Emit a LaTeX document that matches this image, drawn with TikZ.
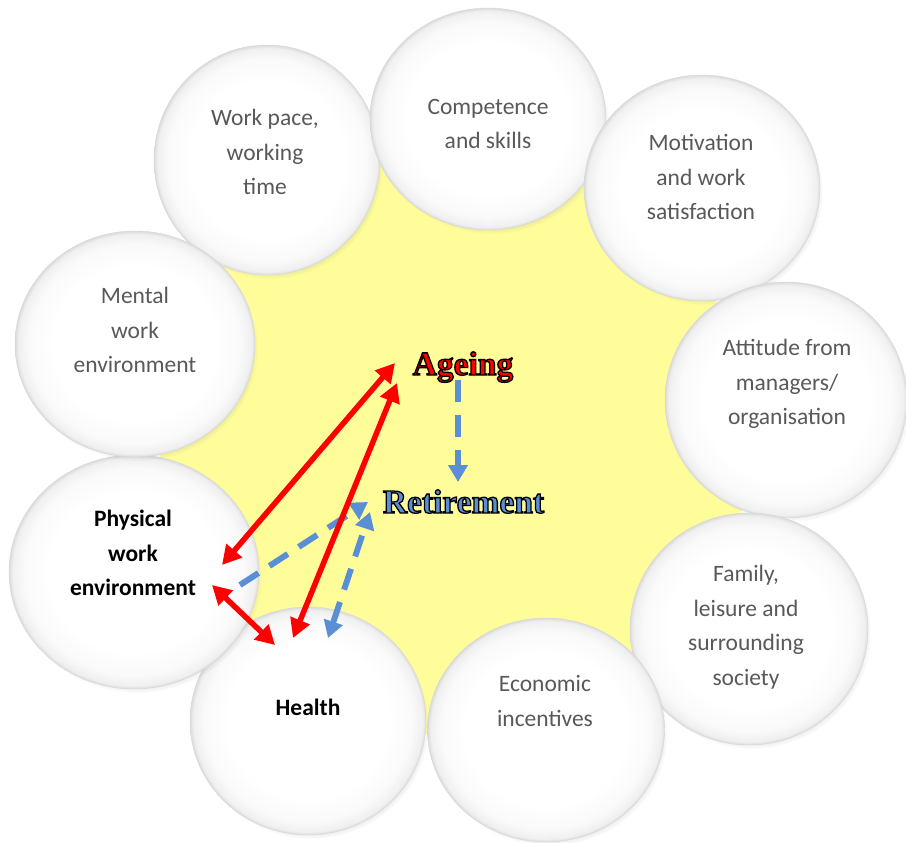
\documentclass[tikz,border=0pt]{standalone}
\usepackage{fontspec}
\setmainfont{Carlito}
\newfontfamily\serifb{Liberation Serif}
\usetikzlibrary{shapes.geometric,arrows.meta,shadows,fadings}
\definecolor{bgyellow}{HTML}{FFFD9A}
\definecolor{txtgray}{HTML}{595959}
\definecolor{arrblue}{HTML}{5A8FD5}
\pgfdeclareradialshading{ballshade}{\pgfpoint{0bp}{0bp}}{color(0bp)=(white); color(17bp)=(white); color(22bp)=(black!2); color(24.3bp)=(black!6); color(25bp)=(black!14); color(50bp)=(black!14)}
\newcommand\outlinedtext[2]{\leavevmode\textcolor{#1}{\special{pdf:code 2 Tr 0 0 0 RG 1.3 w}#2\special{pdf:code 0 Tr}}}
\tikzset{
  bubble/.style={ellipse, inner sep=0pt, shading=ballshade, draw=black!16, line width=0.4pt,
    circular drop shadow={shadow xshift=3pt, shadow yshift=-4pt, opacity=0.4, shadow scale=1.0}},
  txt/.style={font=\fontsize{23.5}{34.5}\selectfont, text=txtgray, align=center},
  btxt/.style={font=\fontsize{23.5}{34.5}\selectfont\bfseries, text=black, align=center},
  bigword/.style={font=\serifb\bfseries\fontsize{33.5}{40}\selectfont, anchor=base, inner sep=0pt},
  redarr/.style={draw=red, line width=5.5pt, {Triangle[length=19pt,width=20pt]}-{Triangle[length=19pt,width=20pt]}},
  bluedash/.style={draw=arrblue, line width=6pt, dash pattern=on 22pt off 13pt},
  bluehead/.style={-{Triangle[length=17pt,width=19pt]}},
  blueheads/.style={{Triangle[length=17pt,width=19pt]}-{Triangle[length=17pt,width=19pt]}}
}
\begin{document}
\begin{tikzpicture}[x=1pt,y=-1pt]
\useasboundingbox (0,0) rectangle (906,843);
% yellow background
\fill[bgyellow] (455,440) circle[radius=295pt];
% bubbles
\node[bubble, minimum width=226pt, minimum height=230pt] (cWork) at (267,160) {};
\node[bubble, minimum width=236pt, minimum height=222pt] (cComp) at (488,119) {};
\node[bubble, minimum width=236pt, minimum height=226pt] (cMot) at (702,188) {};
\node[bubble, minimum width=242pt, minimum height=236pt] (cAtt) at (786,400) {};
\node[bubble, minimum width=238pt, minimum height=232pt] (cFam) at (749,629) {};
\node[bubble, minimum width=237pt, minimum height=224pt] (cEco) at (546,730) {};
\node[bubble, minimum width=236pt, minimum height=228pt] (cHea) at (308,721) {};
\node[bubble, minimum width=250pt, minimum height=234pt] (cPhy) at (134,572) {};
\node[bubble, minimum width=240pt, minimum height=226pt] (cMen) at (135,344) {};
% texts
\node[txt] (tWork) at (265,152) {Work pace,\\working\\time};
\node[txt] (tComp) at (488,124) {Competence\\and skills};
\node[txt] (tMot) at (701,177) {Motivation\\and work\\satisfaction};
\node[txt] (tMen) at (135,330) {Mental\\work\\environment};
\node[txt] (tAtt) at (787,384) {Attitude from\\managers/\\organisation};
\node[btxt] (tPhy) at (133,553) {Physical\\work\\environment};
\node[txt] (tFam) at (746,627) {Family,\\leisure and\\surrounding\\society};
\node[txt] (tEco) at (545,701) {Economic\\incentives};
\node[btxt] (tHea) at (308,707) {Health};
% central words
\node[bigword] (ageing) at (463,375) {\outlinedtext{red}{Ageing}};
\node[bigword] (retire) at (463.5,513) {\outlinedtext{arrblue}{Retirement}};
% arrow end points
\coordinate (ageL) at (395,363);
\coordinate (ageB) at (397,383);
\coordinate (ageD) at (458,380);
\coordinate (retT) at (458,482);
\coordinate (retL) at (368,502);
\coordinate (retB) at (370,512);
\coordinate (phyA) at (222,565);
\coordinate (phyB) at (212,585);
\coordinate (phyC) at (240,585);
\coordinate (heaA) at (293,638);
\coordinate (heaB) at (275,645);
\coordinate (heaC) at (328,638);
% blue dashed arrows
\draw[bluedash, bluehead] (ageD) -- (retT);
\draw[bluedash, bluehead] (phyC) -- (retL);
\draw[bluedash, blueheads] (heaC) -- (retB);
% red arrows
\draw[redarr] (ageL) -- (phyA);
\draw[redarr] (ageB) -- (heaA);
\draw[redarr] (phyB) -- (heaB);
\end{tikzpicture}
\end{document}
